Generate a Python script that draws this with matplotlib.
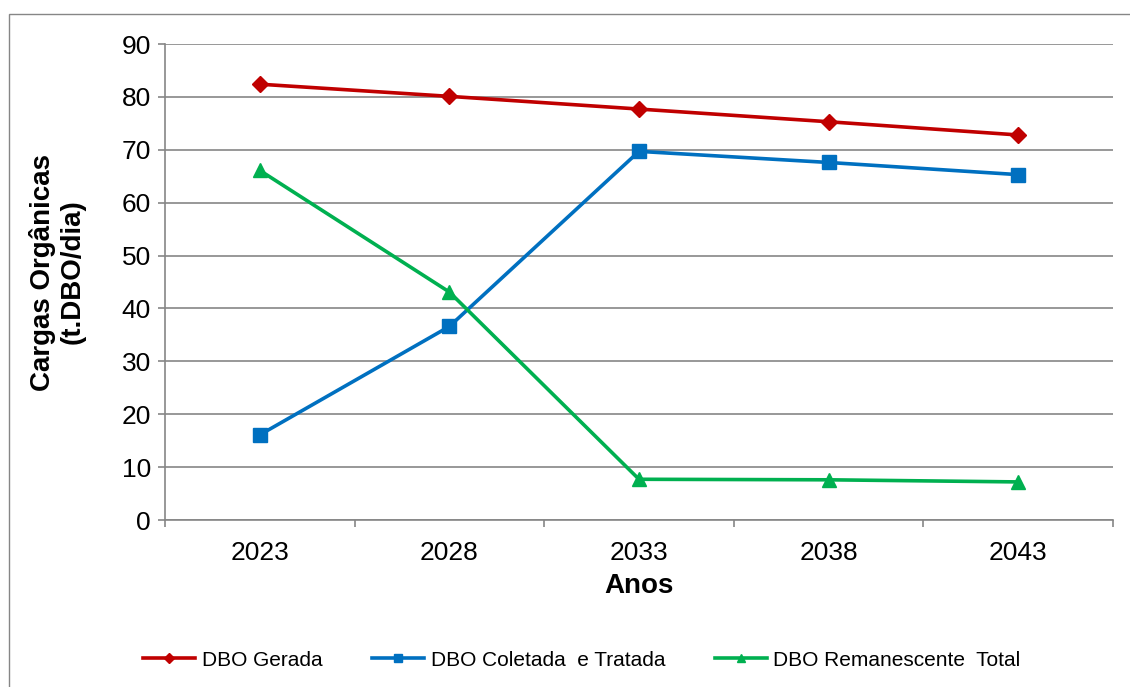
import matplotlib
matplotlib.use("Agg")
import matplotlib.pyplot as plt
from matplotlib.patches import Rectangle
from matplotlib.ticker import FixedLocator

# Data
anos = ["2023", "2028", "2033", "2038", "2043"]
dbo_gerada = [82.4, 80.1, 77.7, 75.3, 72.8]
dbo_coletada = [16.1, 36.6, 69.7, 67.6, 65.3]
dbo_remanescente = [66.1, 43.1, 7.7, 7.6, 7.2]

series_labels = ["DBO Gerada", "DBO Coletada  e Tratada", "DBO Remanescente  Total"]

plt.rcParams["font.family"] = ["Liberation Sans", "DejaVu Sans"]

fig = plt.figure(figsize=(11.30, 6.87), dpi=100)
ax = fig.add_axes([165 / 1130, 1 - 520 / 687, (1113 - 165) / 1130, (520 - 44) / 687])

grid_col = "#868686"

# Outer chart-area frame
fig.patches.append(Rectangle((9 / 1130, -0.1), 1.2, 1 - 14 / 687 + 0.1,
                             transform=fig.transFigure, fill=False,
                             edgecolor=grid_col, linewidth=1.0, zorder=0))

x = list(range(len(anos)))
ax.plot(x, dbo_gerada, color="#C00000", lw=2.6, marker="D", markersize=8.5,
        label=series_labels[0], zorder=3)
ax.plot(x, dbo_coletada, color="#0070C0", lw=2.6, marker="s", markersize=10,
        label=series_labels[1], zorder=3)
ax.plot(x, dbo_remanescente, color="#00B050", lw=2.6, marker="^", markersize=10,
        label=series_labels[2], zorder=3)

ax.set_xlim(-0.5, len(anos) - 0.5)
ax.set_ylim(0, 90)
ax.set_yticks(range(0, 91, 10))
ax.yaxis.grid(True, color=grid_col, linewidth=1.2)
ax.set_axisbelow(True)

ax.set_xticks(x)
ax.set_xticklabels(anos)
ax.xaxis.set_minor_locator(FixedLocator([i - 0.5 for i in range(len(anos) + 1)]))
ax.tick_params(axis="x", which="major", length=0, pad=15, labelsize=19)
ax.tick_params(axis="x", which="minor", length=5, width=1.2, color=grid_col, direction="out")
ax.tick_params(axis="y", length=5, width=1.2, color=grid_col, pad=5, labelsize=19)

for side in ("top", "right"):
    ax.spines[side].set_visible(False)
for side in ("left", "bottom"):
    ax.spines[side].set_color(grid_col)
    ax.spines[side].set_linewidth(1.2)

ax.set_xlabel("Anos", fontsize=20, fontweight="bold", labelpad=6)
ax.set_ylabel("Cargas Orgânicas\n(t.DBO/dia)", fontsize=20, fontweight="bold",
              linespacing=1.15)
ax.yaxis.set_label_coords(-0.084, 0.521)

fig.legend(loc="center", bbox_to_anchor=(0.515, 1 - 660 / 687), ncol=3,
           frameon=False, fontsize=15, handlelength=2.5, columnspacing=2.4,
           handletextpad=0.3, markerscale=0.6)

fig.savefig("out.png", dpi=100)
